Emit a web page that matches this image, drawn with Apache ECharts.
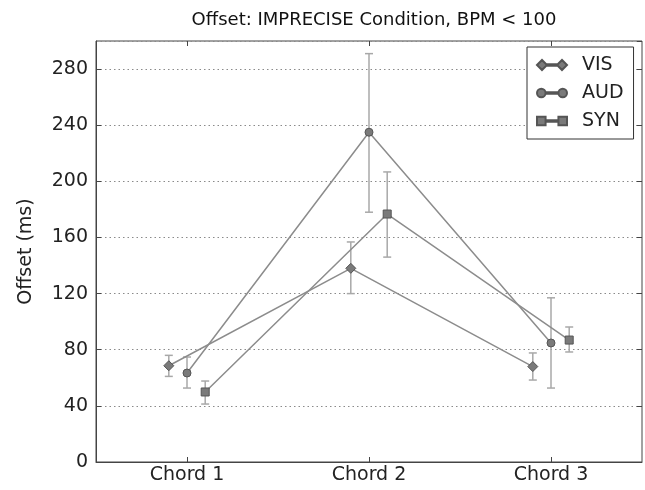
<!DOCTYPE html>
<html><head><meta charset="utf-8">
<script src="https://cdn.jsdelivr.net/npm/echarts@6/dist/echarts.min.js"></script>
<style>html,body{margin:0;padding:0;background:#fff}#c{width:645px;height:490px}</style>
</head><body><div id="c"></div>
<script>
const categories = ['Chord 1', 'Chord 2', 'Chord 3'];
const seriesNames = ['VIS', 'AUD', 'SYN'];
const visMean = [68.6, 138, 68];
const visLow  = [61, 120, 58.4];
const visHigh = [76, 156.8, 77.7];
const audMean = [63.4, 235, 84.8];
const audLow  = [52.7, 178, 52.7];
const audHigh = [74.8, 291, 117];
const synMean = [49.9, 176.7, 86.9];
const synLow  = [41.3, 146, 78.4];
const synHigh = [57.7, 206.7, 96.2];
const offsets = [-0.1, 0, 0.1];
const yTicks = [0, 40, 80, 120, 160, 200, 240, 280];

const FONT = 'DejaVu Sans';
const means = [visMean, audMean, synMean];
const lows = [visLow, audLow, synLow];
const highs = [visHigh, audHigh, synHigh];
const symbols = ['diamond', 'circle', 'rect'];
const symSizes = [10, 8, 8];
const icons = [
  'path://M0,5 L5,0 L10,5 L5,10 Z M10,4.3 L20,4.3 L20,5.7 L10,5.7 Z M20,5 L25,0 L30,5 L25,10 Z',
  'path://M1,5 A4,4 0 1,1 9,5 A4,4 0 1,1 1,5 Z M9,4.3 L21,4.3 L21,5.7 L9,5.7 Z M21,5 A4,4 0 1,1 29,5 A4,4 0 1,1 21,5 Z',
  'path://M1,1 L9,1 L9,9 L1,9 Z M9,4.3 L21,4.3 L21,5.7 L9,5.7 Z M21,1 L29,1 L29,9 L21,9 Z'
];

const series = [];
seriesNames.forEach((name, s) => {
  const errData = categories.map((c, i) => [i + offsets[s], lows[s][i], highs[s][i]]);
  series.push({
    name: name + '_err', type: 'custom', xAxisIndex: 2, yAxisIndex: 0, z: 1,
    silent: true, data: errData,
    renderItem: function (params, api) {
      const x = api.value(0);
      const p1 = api.coord([x, api.value(1)]);
      const p2 = api.coord([x, api.value(2)]);
      const w = 4;
      const st = { stroke: '#a8a8a8', lineWidth: 1.5 };
      return { type: 'group', children: [
        { type: 'line', shape: { x1: p1[0], y1: p1[1], x2: p2[0], y2: p2[1] }, style: st },
        { type: 'line', shape: { x1: p1[0] - w, y1: p1[1], x2: p1[0] + w, y2: p1[1] }, style: st },
        { type: 'line', shape: { x1: p2[0] - w, y1: p2[1], x2: p2[0] + w, y2: p2[1] }, style: st }
      ]};
    }
  });
});
seriesNames.forEach((name, s) => {
  series.push({
    name: name, type: 'line', xAxisIndex: 2, yAxisIndex: 0, z: 3,
    data: categories.map((c, i) => [i + offsets[s], means[s][i]]),
    symbol: symbols[s], symbolSize: symSizes[s], showSymbol: true,
    lineStyle: { color: '#8c8c8c', width: 1.5 },
    itemStyle: { color: '#7a7a7a', borderColor: '#555', borderWidth: 1 },
    emphasis: { disabled: true }
  });
});

const chart = echarts.init(document.getElementById('c'), null, { renderer: 'canvas' });
chart.setOption({
  animation: false,
  backgroundColor: '#fff',
  textStyle: { fontFamily: FONT },
  title: {
    text: 'Offset: IMPRECISE Condition, BPM < 100',
    left: 369, top: 6, textAlign: 'center',
    textStyle: { fontFamily: FONT, fontSize: 18, fontWeight: 'normal', color: '#111' }
  },
  legend: {
    orient: 'vertical', left: 527, top: 47,
    backgroundColor: '#fff', borderColor: '#333', borderWidth: 1,
    padding: [8, 10, 8, 9], itemGap: 8, itemWidth: 30, itemHeight: 10,
    textStyle: { fontFamily: FONT, fontSize: 19, color: '#222', lineHeight: 20, padding: [0, 0, 0, 10] },
    data: seriesNames.map((n, s) => ({ name: n, icon: icons[s] }))
  },
  grid: { left: 96, right: 3, top: 41, bottom: 28, show: true, borderColor: '#444', borderWidth: 1 },
  xAxis: [
    { type: 'category', data: categories, position: 'bottom', boundaryGap: true,
      axisLine: { show: true, onZero: false, lineStyle: { color: '#444' } },
      axisTick: { show: true, inside: true, alignWithLabel: true, length: 5, lineStyle: { color: '#444' } },
      axisLabel: { fontFamily: FONT, fontSize: 19, color: '#222', margin: 4 },
      splitLine: { show: false } },
    { type: 'category', data: categories, position: 'top', boundaryGap: true,
      axisLine: { show: false, onZero: false },
      axisTick: { show: true, inside: true, alignWithLabel: true, length: 5, lineStyle: { color: '#444' } },
      axisLabel: { show: false }, splitLine: { show: false } },
    { type: 'value', min: -0.5, max: 2.5, show: false, axisLine: { onZero: false } }
  ],
  yAxis: [
    { type: 'value', min: 0, max: 300, interval: 40, position: 'left',
      name: 'Offset (ms)', nameLocation: 'middle', nameRotate: 90, nameGap: 60,
      nameTextStyle: { fontFamily: FONT, fontSize: 19, color: '#222' },
      axisLine: { show: true, onZero: false, lineStyle: { color: '#444' } },
      axisTick: { show: true, inside: true, length: 5, lineStyle: { color: '#444' } },
      axisLabel: { fontFamily: FONT, fontSize: 19, color: '#222', margin: 8, showMaxLabel: false,
        formatter: v => (yTicks.indexOf(v) >= 0 ? String(v) : '') },
      splitLine: { show: true, lineStyle: { color: '#8a8a8a', width: 1, type: [1.5, 3] } } },
    { type: 'value', min: 0, max: 300, interval: 40, position: 'right',
      axisLine: { show: false, onZero: false },
      axisTick: { show: true, inside: true, length: 5, lineStyle: { color: '#444' } },
      axisLabel: { show: false }, splitLine: { show: false } }
  ],
  series: series
});
</script></body></html>
